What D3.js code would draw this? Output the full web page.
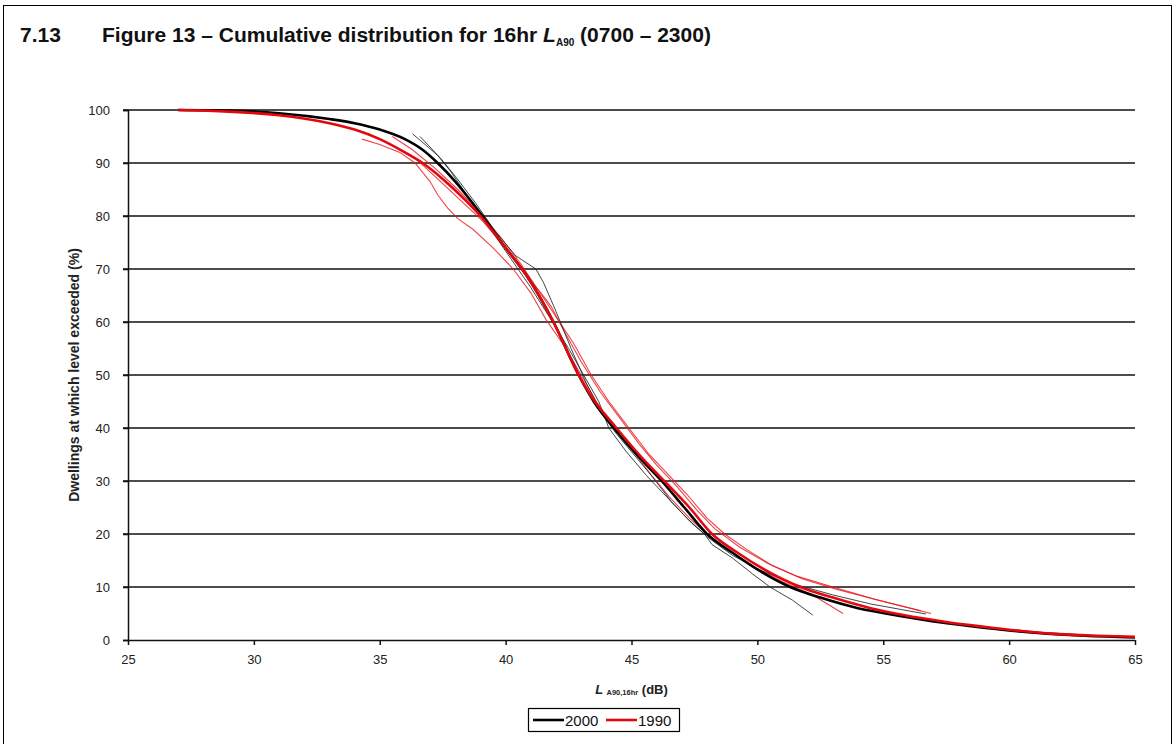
<!DOCTYPE html>
<html>
<head>
<meta charset="utf-8">
<script src="https://cdn.jsdelivr.net/npm/d3@7"></script>
<style>
  body { margin: 0; background: #fff; }
  svg { display: block; font-family: "Liberation Sans", Arial, sans-serif; }
</style>
</head>
<body>
<div id="chart"></div>
<script>
// tick values
const xTicks = [25, 30, 35, 40, 45, 50, 55, 60, 65];
const yTicks = [0, 10, 20, 30, 40, 50, 60, 70, 80, 90, 100];

// main curves [LA90 dB, % exceeded]
const main2000 = [[27,100],[29,99.9],[31,99.4],[33,98.3],[34,97.5],[35,96.3],[36,94.5],[36.7,92.5],[37.3,90],[38,86.5],[39,80.5],[40,74],[40.8,69],[41.9,60],[42.9,50],[43.5,45],[44.3,40],[45.2,35],[46.2,30],[47.1,25],[48,20],[49,16.5],[50,13.3],[51.3,10],[52.5,8],[54,6],[55.6,4.6],[57,3.5],[58.5,2.6],[60,1.8],[61.5,1.2],[63,0.8],[65,0.5]];
const main1990 = [[27,100],[29,99.7],[31,99],[33,97.5],[34,96.3],[35,94.5],[36,92],[36.7,90],[37.5,87],[38.4,83],[39,80],[40,74],[40.8,69],[41.9,60],[42.9,50],[43.4,46],[44.4,40],[45.3,35],[46.3,30],[47.3,25],[48.2,20],[49.2,16.5],[50.2,13.5],[51.7,10],[53,8],[54.5,6],[55.8,4.7],[57.5,3.4],[59,2.5],[60.5,1.7],[62,1.1],[63.5,0.8],[65,0.6]];

// thinner curves
const thin2000a = [[36.3,95.5],[36.8,93.5],[37.4,91],[38,87.5],[38.8,82.5],[39.6,77],[40.4,72.5],[41.2,70],[41.5,67.5],[42,62],[42.6,55],[43.2,48.5],[43.8,43],[44.3,39.5],[45,35.5],[45.8,31],[46.6,26],[47.4,22],[47.9,20],[48.2,18],[49,15.5],[49.8,12.5],[50.5,10],[51.4,7.5],[52.2,4.7]];
const thin2000b = [[36.6,95],[37.2,92],[37.8,88.5],[38.6,83],[39.4,77.5],[40.2,72],[41,66.5],[41.8,60.5],[42.5,55],[43.1,50],[43.7,45],[44.1,40],[44.8,35.5],[45.6,31],[46.4,27],[47.2,23],[48,19.5],[49,16],[50.2,13],[51.5,10.5],[53,8.5],[54.5,6.8],[56.7,4.9]];
const thin1990a = [[34.3,94.5],[35,93.5],[35.8,92],[36.4,90],[37,86.5],[37.3,84],[37.7,81.5],[38.1,79.5],[38.7,77.5],[39.5,74],[40.3,70],[41,65.5],[41.6,60.5],[42.4,55],[43,50],[43.6,45],[44.2,40.5],[45,36],[45.8,31],[46.5,27],[47.3,23],[48.1,19.5],[49,16.5],[50,13.5],[51,11],[52.2,8.5],[53.4,5]];
const thin1990b = [[35.5,95],[36.3,92.5],[37.2,89],[38.1,85],[39,80.5],[39.8,76],[40.6,71],[41.3,66],[42,61],[42.7,56],[43.4,50],[44.1,45],[44.9,40],[45.7,35],[46.5,31],[47.2,27.5],[48,23],[48.7,20],[49.6,17],[50.6,14],[51.8,11.5],[53.2,9.5],[54.8,7.5],[56.9,5]];
const thin1990c = [[34.8,95],[35.6,93],[36.5,90.5],[37.3,87],[38.2,83],[39.1,79],[39.9,74.5],[40.6,70],[41.4,65.5],[41.8,63],[42.3,58.5],[43,52.5],[43.8,46.5],[44.6,41.5],[45.3,37],[46,33],[46.8,29],[47.6,24.5],[48.3,21],[49.3,17.5],[50.4,14.5],[51.6,12],[53,10],[54.6,7.8],[56.5,5.5]];

const legendKeys = ["2000", "1990"];

const W = 1176, H = 744;
const svg = d3.select("#chart").append("svg").attr("width", W).attr("height", H);

// outer frame
svg.append("rect").attr("x", 3.5).attr("y", 5.5).attr("width", 1168).attr("height", 760)
  .attr("fill", "none").attr("stroke", "#000").attr("stroke-width", 1);

// title
svg.append("text").attr("x", 20).attr("y", 42).attr("font-size", 21).attr("font-weight", "bold")
  .attr("fill", "#111").text("7.13");
const title = svg.append("text").attr("x", 102).attr("y", 42).attr("font-size", 21)
  .attr("font-weight", "bold").attr("fill", "#111");
title.append("tspan").text("Figure 13 \u2013 Cumulative distribution for 16hr ");
title.append("tspan").attr("font-style", "italic").text("L");
title.append("tspan").attr("font-size", 10).attr("dy", 4).text("A90");
title.append("tspan").attr("dy", -4).text(" (0700 \u2013 2300)");

const x = d3.scaleLinear().domain([25, 65]).range([128, 1135]);
const y = d3.scaleLinear().domain([0, 100]).range([640, 110]);

// gridlines
svg.append("g").selectAll("line").data(yTicks.filter(d => d > 0)).join("line")
  .attr("x1", x(25) - 5).attr("x2", x(65))
  .attr("y1", d => y(d)).attr("y2", d => y(d))
  .attr("stroke", "#111").attr("stroke-width", 1.5);

// y axis
const yAxis = svg.append("g").attr("transform", `translate(${x(25)},0)`)
  .call(d3.axisLeft(y).tickValues(yTicks).tickSize(5).tickFormat(d3.format("d")));
yAxis.select(".domain").attr("stroke", "#111").attr("stroke-width", 1.5);
yAxis.selectAll(".tick line").attr("stroke", "#111").attr("stroke-width", 1.5);
yAxis.selectAll("text").attr("font-size", 13).attr("fill", "#222").attr("x", -18)
  .attr("font-family", "Liberation Sans, Arial, sans-serif");

// x axis
const xAxis = svg.append("g").attr("transform", `translate(0,${y(0)})`)
  .call(d3.axisBottom(x).tickValues(xTicks).tickSize(5).tickSizeOuter(0));
xAxis.select(".domain").attr("stroke", "#111").attr("stroke-width", 1.5);
xAxis.selectAll(".tick line").attr("stroke", "#111").attr("stroke-width", 1.5);
xAxis.selectAll("text").attr("font-size", 13).attr("fill", "#222").attr("y", 15)
  .attr("font-family", "Liberation Sans, Arial, sans-serif");

// curves
const smooth = d3.line().x(d => x(d[0])).y(d => y(d[1])).curve(d3.curveMonotoneX);
const rough = d3.line().x(d => x(d[0])).y(d => y(d[1])).curve(d3.curveLinear);

const thinSeries = [
  { d: thin1990a, c: "#e8141c", w: 1.1, o: 0.8 },
  { d: thin1990b, c: "#e8141c", w: 1.1, o: 0.8 },
  { d: thin1990c, c: "#e8141c", w: 1.1, o: 0.8 },
  { d: thin2000a, c: "#1a2a28", w: 1, o: 0.85 },
  { d: thin2000b, c: "#1a2a28", w: 1, o: 0.85 }
];
svg.append("g").selectAll("path").data(thinSeries).join("path")
  .attr("d", s => rough(s.d)).attr("fill", "none")
  .attr("stroke", s => s.c).attr("stroke-width", s => s.w).attr("stroke-opacity", s => s.o);

svg.append("path").attr("d", smooth(main2000)).attr("fill", "none")
  .attr("stroke", "#000").attr("stroke-width", 2.6);
svg.append("path").attr("d", smooth(main1990)).attr("fill", "none")
  .attr("stroke", "#e4080e").attr("stroke-width", 2.6);

// axis titles
svg.append("text").attr("transform", `translate(79,${y(50)}) rotate(-90)`)
  .attr("text-anchor", "middle").attr("font-size", 14).attr("font-weight", "bold")
  .attr("fill", "#222").text("Dwellings at which level exceeded (%)");

const xt = svg.append("text").attr("x", x(45)).attr("y", 694).attr("text-anchor", "middle")
  .attr("font-size", 13).attr("font-weight", "bold").attr("fill", "#222");
xt.append("tspan").attr("font-style", "italic").text("L ");
xt.append("tspan").attr("font-size", 7.5).attr("dy", 1).text("A90,16hr");
xt.append("tspan").attr("dy", -1).text(" (dB)");

// legend
const lg = svg.append("g").attr("transform", "translate(528,708)");
lg.append("rect").attr("x", 0.5).attr("y", 0.5).attr("width", 151).attr("height", 23)
  .attr("fill", "#fff").attr("stroke", "#000").attr("stroke-width", 1.2);
const lgColors = d3.scaleOrdinal().domain(legendKeys).range(["#000", "#e4080e"]);
legendKeys.forEach((k, i) => {
  const ox = 5 + i * 73;
  lg.append("line").attr("x1", ox).attr("x2", ox + 31).attr("y1", 12).attr("y2", 12)
    .attr("stroke", lgColors(k)).attr("stroke-width", 2.6);
  lg.append("text").attr("x", ox + 32).attr("y", 17.5).attr("font-size", 15)
    .attr("fill", "#111").text(k);
});
</script>
</body>
</html>
